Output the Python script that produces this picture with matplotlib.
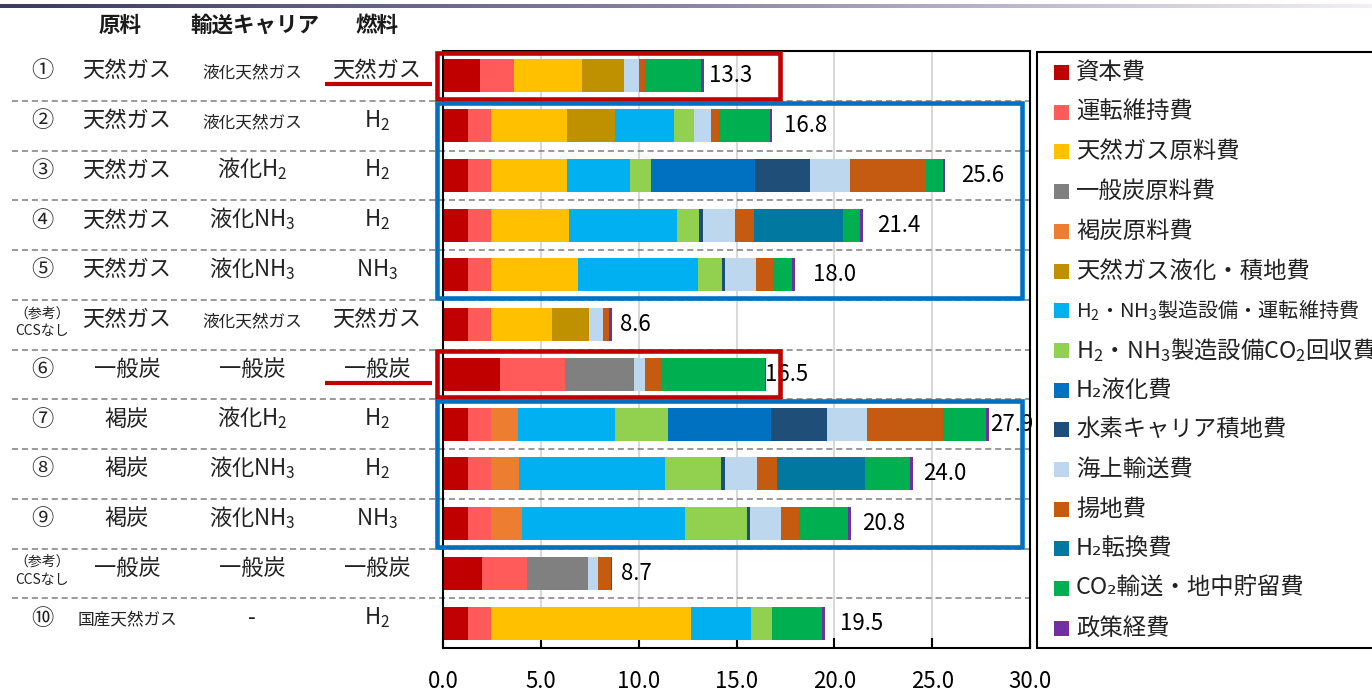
import matplotlib
matplotlib.use('Agg')
import matplotlib.pyplot as plt
import numpy as np
from matplotlib.patches import Rectangle
from matplotlib.colors import LinearSegmentedColormap
from matplotlib.transforms import blended_transform_factory

plt.rcParams['font.family'] = ['Noto Sans CJK JP', 'DejaVu Sans']

SUB2 = '$_\\mathregular{2}$'
SUB3 = '$_\\mathregular{3}$'

# ---- table columns (rows top to bottom) ----
row_marks = ['①', '②', '③', '④', '⑤', '（参考）\nCCSなし',
             '⑥', '⑦', '⑧', '⑨', '（参考）\nCCSなし', '⑩']
feedstock = ['天然ガス', '天然ガス', '天然ガス', '天然ガス', '天然ガス', '天然ガス',
             '一般炭', '褐炭', '褐炭', '褐炭', '一般炭', '国産天然ガス']
carrier = ['液化天然ガス', '液化天然ガス', '液化H' + SUB2, '液化NH' + SUB3,
           '液化NH' + SUB3, '液化天然ガス', '一般炭', '液化H' + SUB2,
           '液化NH' + SUB3, '液化NH' + SUB3, '一般炭', '-']
fuel = ['天然ガス', 'H' + SUB2, 'H' + SUB2, 'H' + SUB2, 'NH' + SUB3, '天然ガス',
        '一般炭', 'H' + SUB2, 'H' + SUB2, 'NH' + SUB3, '一般炭', 'H' + SUB2]
totals = [13.3, 16.8, 25.6, 21.4, 18.0, 8.6, 16.5, 27.9, 24.0, 20.8, 8.7, 19.5]

# ---- cost components ----
cost_names = ['資本費', '運転維持費', '天然ガス原料費', '一般炭原料費', '褐炭原料費',
              '天然ガス液化・積地費',
              'H' + SUB2 + '・NH' + SUB3 + '製造設備・運転維持費',
              'H' + SUB2 + '・NH' + SUB3 + '製造設備CO' + SUB2 + '回収費',
              'H₂液化費', '水素キャリア積地費', '海上輸送費', '揚地費',
              'H₂転換費', 'CO₂輸送・地中貯留費', '政策経費']
cost_colors = ['#C00000', '#FF5B5B', '#FFC000', '#808080', '#ED7D31', '#BF9000',
               '#00B0F0', '#92D050', '#0070C0', '#1F4E79', '#BDD7EE', '#C55A11',
               '#00789F', '#00B050', '#7030A0']

capex        = [1.90, 1.27, 1.27, 1.27, 1.27, 1.27, 2.92, 1.27, 1.27, 1.27, 1.97, 1.27]
om           = [1.74, 1.19, 1.19, 1.19, 1.19, 1.19, 3.33, 1.19, 1.19, 1.19, 2.32, 1.17]
ng_fuel      = [3.44, 3.86, 3.86, 3.97, 4.42, 3.09, 0, 0, 0, 0, 0, 10.26]
coal_fuel    = [0, 0, 0, 0, 0, 0, 3.50, 0, 0, 0, 3.10, 0]
lignite_fuel = [0, 0, 0, 0, 0, 0, 0, 1.35, 1.43, 1.59, 0, 0]
lng_liq      = [2.17, 2.45, 0, 0, 0, 1.92, 0, 0, 0, 0, 0, 0]
h2_plant     = [0, 3.05, 3.25, 5.52, 6.14, 0, 0, 4.97, 7.46, 8.30, 0, 3.04]
co2_capture  = [0, 1.02, 1.08, 1.14, 1.23, 0, 0, 2.74, 2.86, 3.21, 0, 1.05]
h2_liq       = [0, 0, 5.28, 0, 0, 0, 0, 5.26, 0, 0, 0, 0]
carrier_load = [0, 0, 2.84, 0.18, 0.16, 0, 0, 2.84, 0.20, 0.14, 0, 0]
shipping     = [0.76, 0.86, 2.05, 1.64, 1.57, 0.70, 0.59, 2.07, 1.66, 1.57, 0.51, 0]
unloading    = [0.33, 0.43, 3.89, 1.00, 0.90, 0.31, 0.78, 3.87, 0.98, 0.90, 0.68, 0]
h2_convert   = [0, 0, 0, 4.52, 0, 0, 0, 0, 4.54, 0, 0, 0]
co2_storage  = [2.84, 2.56, 0.84, 0.90, 0.96, 0, 5.32, 2.21, 2.27, 2.52, 0, 2.59]
policy       = [0.14, 0.12, 0.12, 0.14, 0.14, 0.16, 0.06, 0.14, 0.14, 0.14, 0.08, 0.14]

series = [capex, om, ng_fuel, coal_fuel, lignite_fuel, lng_liq, h2_plant, co2_capture,
          h2_liq, carrier_load, shipping, unloading, h2_convert, co2_storage, policy]

# gap between bar end and total label (pixels)
label_gap = [5, 12, 16, 14, 18, 8, -1, 1, 10, 12, 9, 15]

W, H = 1372, 693
fig = plt.figure(figsize=(W / 100, H / 100), dpi=100)


def fx(px):
    return px / W


def fy(py):
    return 1 - py / H


ax = fig.add_axes([fx(443), fy(648), fx(1030) - fx(443), fy(51) - fy(648)])
rows = np.arange(len(totals))

left = np.zeros(len(rows))
for vals, col in zip(series, cost_colors):
    vals = np.array(vals)
    ax.barh(rows, vals, left=left, height=0.66, color=col, linewidth=0, zorder=2)
    left += vals

ax.set_xlim(0, 30)
ax.set_ylim(len(rows) - 0.5, -0.5)
ax.set_xticks(np.arange(0, 31, 5))
ax.set_xticklabels([f'{v:.1f}' for v in np.arange(0, 31, 5)], fontsize=16)
ax.set_yticks([])
ax.tick_params(axis='x', direction='in', length=7, width=1.5, pad=16)
ax.grid(axis='x', color='#d9d9d9', linewidth=1.5)
ax.set_axisbelow(True)
for sp in ax.spines.values():
    sp.set_color('black')
    sp.set_linewidth(1.5)

# total labels
for r, (end, t, g) in enumerate(zip(left, totals, label_gap)):
    ax.annotate(f'{t:.1f}', xy=(end, r), xytext=(g * 0.72, 0), textcoords='offset points',
                ha='left', va='center', fontsize=16, zorder=3)

# dashed row separators, running into the table on the left
sep_tr = blended_transform_factory(ax.transAxes, ax.transData)
x_start = (12 - 443) / (1030 - 443)
for b in np.arange(0.5, len(rows) - 0.5):
    ax.plot([x_start, 1.0], [b, b], transform=sep_tr, color='#7f7f7f', lw=1.1,
            ls=(0, (4, 2.5)), clip_on=False, zorder=1.5)

# highlight boxes
def box(r0, r1, x1, color):
    ax.add_patch(Rectangle((-0.3, r0 - 0.46), x1 + 0.3, r1 - r0 + 0.92, fill=False,
                           edgecolor=color, lw=3.3, clip_on=False, zorder=5))


box(0, 0, 17.2, '#C00000')
box(6, 6, 17.2, '#C00000')
box(1, 4, 29.6, '#0070C0')
box(7, 9, 29.6, '#0070C0')

# table on the left
tab_tr = blended_transform_factory(fig.transFigure, ax.transData)
for r in rows:
    mark = row_marks[r]
    if '\n' in mark:
        ax.text(fx(42), r - 0.05, mark, transform=tab_tr, ha='center', va='center',
                fontsize=10, linespacing=1.35, color='#222222')
    else:
        ax.text(fx(42), r + 0.03, mark, transform=tab_tr, ha='center', va='baseline',
                fontsize=16, color='#222222')
    for xc, s in [(127, feedstock[r]), (252, carrier[r]), (377, fuel[r])]:
        size = 12 if len(s) >= 6 and '$' not in s else 16
        ax.text(fx(xc), r + 0.03, s, transform=tab_tr, ha='center', va='baseline',
                fontsize=size, color='#222222')

# red underline under fuel column for rows ① and ⑥
for r in [0, 6]:
    ax.plot([fx(325), fx(432)], [r + 0.17, r + 0.17], transform=tab_tr,
            color='#C00000', lw=3, clip_on=False, solid_capstyle='butt')

# header
for xc, s in [(120, '原料'), (255, '輸送キャリア'), (377, '燃料')]:
    fig.text(fx(xc), fy(25), s, ha='center', va='center', fontsize=15.5,
             fontweight='bold', color='#1a1a1a')

# top gradient rule
gax = fig.add_axes([0, fy(8), 1, 4 / H])
cmap = LinearSegmentedColormap.from_list('rule', ['#3a3a62', '#8c84a2', '#f2f0f5'])
gax.imshow(np.linspace(0, 1, 256).reshape(1, -1), aspect='auto', cmap=cmap)
gax.set_axis_off()

# legend
fig.patches.append(Rectangle((fx(1037), fy(648)), fx(1400) - fx(1037), fy(52) - fy(648),
                             transform=fig.transFigure, facecolor='white',
                             edgecolor='black', lw=1.5))
for i, (name, col) in enumerate(zip(cost_names, cost_colors)):
    yc = 72.5 + i * 39.7
    fig.patches.append(Rectangle((fx(1054), fy(yc + 7.5)), fx(15), 15 / H,
                                 transform=fig.transFigure, facecolor=col, lw=0))
    size = 14.5 if name.endswith('運転維持費') and 'NH' in name else 16.8
    fig.text(fx(1076), fy(yc), name, ha='left', va='center', fontsize=size,
             color='#222222')

fig.savefig('out.png', dpi=100)
